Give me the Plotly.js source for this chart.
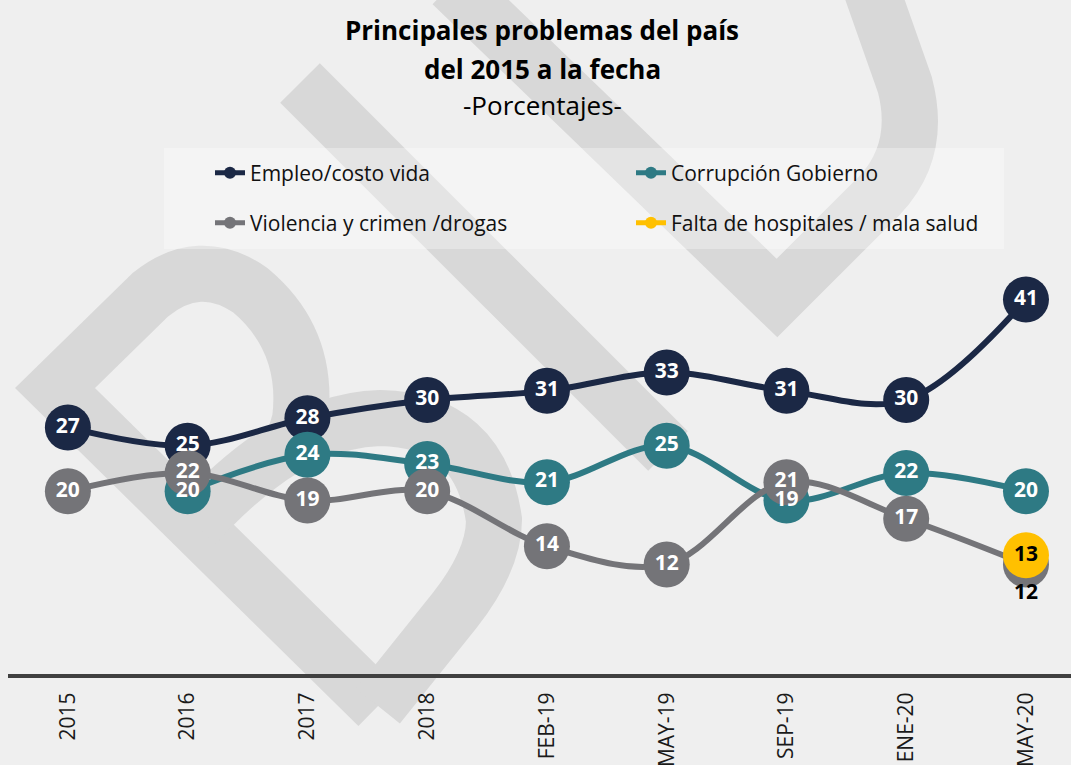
<!DOCTYPE html>
<html>
<head>
<meta charset="utf-8">
<script src="https://cdn.plot.ly/plotly-3.0.1.min.js"></script>
<style>html,body{margin:0;padding:0;background:#efefef;}#chart{width:1071px;height:765px;}</style>
</head>
<body>
<div id="chart"></div>
<script>
// ---- data ----
const periods = ['2015','2016','2017','2018','FEB-19','MAY-19','SEP-19','ENE-20','MAY-20'];
const empleo = [27, 25, 28, 30, 31, 33, 31, 30, 41];
const corrupcion = [null, 20, 24, 23, 21, 25, 19, 22, 20];
const violencia = [20, 22, 19, 20, 14, 12, 21, 17, 12];
const hospitales = [null, null, null, null, null, null, null, null, 13];
const seriesNames = ['Empleo/costo vida', 'Corrupción Gobierno', 'Violencia y crimen /drogas', 'Falta de hospitales / mala salud'];

// ---- styling ----
const colors = ['#1b2845', '#2e7a84', '#747478', '#ffc000'];
const FONT = '"Open Sans", "Noto Sans", sans-serif';
const L = 8, T = 263, W = 1063, H = 411, B = 91;

function P(x, y) { return ((x - L) / W).toFixed(4) + ',' + (1 - (y - T) / H).toFixed(4); }
function px(x) { return (x - L) / W; }
function py(y) { return 1 - (y - T) / H; }

const allSeries = [empleo, corrupcion, violencia, hospitales];
const legends = ['legend', 'legend', 'legend2', 'legend2'];
const traces = [];
// lines + markers first
allSeries.forEach((vals, i) => {
  traces.push({
    type: 'scatter', mode: 'lines+markers', x: periods, y: vals, name: seriesNames[i],
    legend: legends[i], connectgaps: false,
    line: {color: colors[i], width: 6, shape: 'spline', smoothing: 1},
    marker: {color: colors[i], size: 46, line: {width: 0}},
    cliponaxis: false, hoverinfo: 'skip'
  });
});
// data labels on top of every marker
allSeries.forEach((vals, i) => {
  const last = vals.length - 1;
  const isViol = i === 2, isHosp = i === 3;
  const below = k => isViol && k === last;
  traces.push({
    type: 'scatter', mode: 'markers+text', x: periods, y: vals, showlegend: false,
    marker: {size: vals.map((v, k) => below(k) ? 28 : 46), color: 'rgba(0,0,0,0)', opacity: 0, line: {width: 0, color: 'rgba(0,0,0,0)'}},
    text: vals.map(v => v === null ? '' : String(v)),
    textposition: vals.map((v, k) => below(k) ? 'bottom center' : 'middle center'),
    textfont: {family: FONT, size: 21, weight: 'bold',
      color: vals.map((v, k) => (below(k) || isHosp) ? '#000000' : '#ffffff')},
    cliponaxis: false, hoverinfo: 'skip'
  });
});

const wm = '#d8d8d8';
const wmPaths = [
  'M ' + P(300, 83) + ' L ' + P(668, 451),
  'M ' + P(452, -16) + ' L ' + P(777, 298) + ' L ' + P(880, 195) + ' Q ' + P(922, 150) + ' ' + P(905, 85) + ' L ' + P(868, -20),
  'M ' + P(378, 706) + ' L ' + P(55, 388) + ' L ' + P(150, 295) + ' Q ' + P(199, 255) + ' ' + P(250, 290) + ' Q ' + P(310, 340) + ' ' + P(300, 420) + ' L ' + P(285, 470),
  'M ' + P(195, 525) + ' Q ' + P(290, 420) + ' ' + P(380, 418) + ' Q ' + P(480, 420) + ' ' + P(494, 520) + ' Q ' + P(494, 560) + ' ' + P(455, 610) + ' L ' + P(378, 706)
];
const shapes = wmPaths.map(p => ({type: 'path', xref: 'paper', yref: 'paper', path: p, layer: 'below',
  line: {color: wm, width: 56}, fillcolor: 'rgba(0,0,0,0)'}));
shapes.push({type: 'rect', xref: 'paper', yref: 'paper', x0: px(164), x1: px(1004), y0: py(148), y1: py(249),
  layer: 'below', line: {width: 0}, fillcolor: 'rgba(255,255,255,0.3)'});

const legendCommon = {orientation: 'h', xanchor: 'left', yanchor: 'middle', entrywidth: 376, entrywidthmode: 'pixels',
  bgcolor: 'rgba(0,0,0,0)', font: {family: FONT, size: 21, color: '#111111'}, itemsizing: 'constant', itemclick: false};

const layout = {
  width: 1071, height: 765,
  paper_bgcolor: '#efefef', plot_bgcolor: 'rgba(0,0,0,0)',
  margin: {l: L, r: 0, t: T, b: B},
  showlegend: true,
  title: {text: 'Principales problemas del país', font: {family: FONT, size: 26, weight: 'bold', color: '#000000'},
    xref: 'container', yref: 'container', x: 542 / 1071, xanchor: 'center', y: 1 - 31 / 765, yanchor: 'middle'},
  annotations: [
    {text: 'del 2015 a la fecha', xref: 'paper', yref: 'paper', x: px(542), y: py(69), xanchor: 'center', yanchor: 'middle',
      showarrow: false, font: {family: FONT, size: 26, weight: 'bold', color: '#000000'}},
    {text: '-Porcentajes-', xref: 'paper', yref: 'paper', x: px(542), y: py(105), xanchor: 'center', yanchor: 'middle',
      showarrow: false, font: {family: FONT, size: 26, color: '#000000'}}
  ],
  legend: Object.assign({x: px(210), y: py(173)}, legendCommon),
  legend2: Object.assign({x: px(210), y: py(223)}, legendCommon),
  xaxis: {type: 'category', range: [-0.5, 8.376], showgrid: false, zeroline: false, showline: true,
    linecolor: '#404040', linewidth: 4, ticks: '', tickangle: -90, ticklabelstandoff: 6,
    tickfont: {family: FONT, size: 21, color: '#1a1a1a'}, fixedrange: true},
  yaxis: {range: [0, 45], showgrid: false, zeroline: false, showline: false, showticklabels: false, fixedrange: true},
  shapes: shapes
};

Plotly.newPlot('chart', traces, layout, {displayModeBar: false, staticPlot: true});
</script>
</body>
</html>
